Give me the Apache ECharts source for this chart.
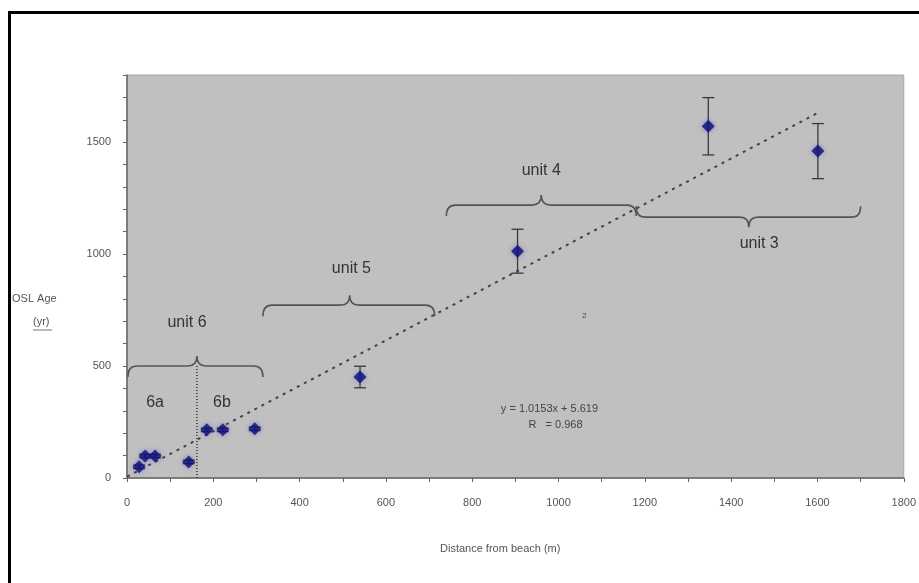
<!DOCTYPE html>
<html>
<head>
<meta charset="utf-8">
<script src="https://cdn.jsdelivr.net/npm/echarts@6/dist/echarts.min.js"></script>
<style>
  html, body { margin: 0; padding: 0; background: #fff; }
  #main { width: 919px; height: 583px; }
</style>
</head>
<body>
<div id="main"></div>
<script>
// 样本数据 (distance m, OSL age yr, error yr)
var distance = [28, 42, 65, 143, 185, 222, 296, 540, 905, 1347, 1601];
var oslAge = [50, 98, 98, 72, 215, 215, 220, 451, 1013, 1571, 1460];
var ageError = [8, 8, 8, 8, 8, 8, 8, 48, 98, 128, 123];

// trendline end points
var trendX = [0, 1600];
var trendY = [6, 1630];

// braces: start x, end x, tip x, level y, 1 = tip up / -1 = tip down
var braceStart = [2, 315, 740, 1180];
var braceEnd = [315, 713, 1180, 1700];
var braceTip = [162, 516, 960, 1441];
var braceLevel = [500, 772, 1219, 1165];
var braceDir = [1, 1, 1, -1];

// 6a / 6b divider
var dividerX = 162;
var dividerY = [0, 500];

var noteText = ['unit 6', '6a', '6b', 'unit 5', 'unit 4', 'unit 3', 'y = 1.0153x + 5.619', 'R   = 0.968', '2'];
var noteX = [139, 65, 220, 520, 960, 1465, 979, 993, 1060];
var noteY = [692, 335, 335, 937, 1375, 1049, 308, 237, 723];
var noteSize = [16, 16, 16, 16, 16, 16, 11, 11, 8];

(function () {
  var myChart = echarts.init(document.getElementById('main'));

  var points = distance.map(function (d, i) { return [d, oslAge[i]]; });
  var errs = distance.map(function (d, i) { return [d, oslAge[i], ageError[i]]; });
  var braces = braceStart.map(function (s, i) {
    return [s, braceEnd[i], braceTip[i], braceLevel[i], braceDir[i]];
  });
  var notes = noteText.map(function (t, i) { return [noteX[i], noteY[i], i]; });

  var option = {
    animation: false,
    backgroundColor: '#fff',
    grid: {
      left: 127, right: 15, top: 75, bottom: 105,
      show: true,
      backgroundColor: '#c0c0c0',
      borderColor: '#a8a8a8',
      borderWidth: 1
    },
    xAxis: {
      type: 'value',
      min: 0, max: 1800, interval: 200,
      axisLine: { lineStyle: { color: '#666', width: 1.5 } },
      axisTick: { length: 4, lineStyle: { color: '#666' } },
      minorTick: { show: true, splitNumber: 2, length: 4, lineStyle: { color: '#666' } },
      splitLine: { show: false },
      axisLabel: { color: '#555', fontSize: 11, margin: 19, fontFamily: 'Liberation Sans',
        formatter: function (v) { return String(v); } }
    },
    yAxis: {
      type: 'value',
      min: 0, max: 1800, interval: 500,
      axisLine: { show: true, lineStyle: { color: '#666', width: 1.5 } },
      axisTick: { show: true, length: 4, lineStyle: { color: '#666' } },
      minorTick: { show: true, splitNumber: 5, length: 4, lineStyle: { color: '#666' } },
      splitLine: { show: false },
      axisLabel: { color: '#555', fontSize: 11, margin: 16, fontFamily: 'Liberation Sans',
        formatter: function (v) { return v % 500 === 0 ? String(v) : ''; } }
    },
    graphic: [
      { type: 'line', shape: { x1: 8, y1: 12.5, x2: 919, y2: 12.5 }, style: { stroke: '#000', lineWidth: 3 } },
      { type: 'line', shape: { x1: 9.5, y1: 11, x2: 9.5, y2: 583 }, style: { stroke: '#000', lineWidth: 3 } },
      { type: 'text', left: 12, top: 293, style: { text: 'OSL Age', fill: '#555', font: '11px "Liberation Sans"' } },
      { type: 'text', left: 33, top: 316, style: { text: '(yr)', fill: '#555', font: '11px "Liberation Sans"' } },
      { type: 'line', shape: { x1: 33, y1: 330, x2: 52, y2: 330 }, style: { stroke: '#777', lineWidth: 1 } },
      { type: 'text', left: 440, top: 543, style: { text: 'Distance from beach (m)', fill: '#555', font: '11px "Liberation Sans"' } }
    ],
    series: [
      {
        name: 'trend',
        type: 'line',
        data: trendX.map(function (x, i) { return [x, trendY[i]]; }),
        symbol: 'none',
        lineStyle: { color: '#444', width: 2, type: [3, 5] },
        z: 2
      },
      {
        name: 'divider',
        type: 'line',
        data: dividerY.map(function (y) { return [dividerX, y]; }),
        symbol: 'none',
        lineStyle: { color: '#333', width: 1.5, type: [1, 2] },
        z: 2
      },
      {
        name: 'errors',
        type: 'custom',
        data: errs,
        renderItem: function (params, api) {
          var x = api.value(0), y = api.value(1), e = api.value(2);
          var top = api.coord([x, y + e]);
          var bot = api.coord([x, y - e]);
          var hw = 6;
          var st = { stroke: '#3a3a3a', lineWidth: 1.3 };
          return {
            type: 'group',
            children: [
              { type: 'line', shape: { x1: top[0], y1: top[1], x2: bot[0], y2: bot[1] }, style: st },
              { type: 'line', shape: { x1: top[0] - hw, y1: top[1], x2: top[0] + hw, y2: top[1] }, style: st },
              { type: 'line', shape: { x1: bot[0] - hw, y1: bot[1], x2: bot[0] + hw, y2: bot[1] }, style: st }
            ]
          };
        },
        z: 3
      },
      {
        name: 'OSL age',
        type: 'scatter',
        data: points,
        symbol: 'diamond',
        symbolSize: 13,
        itemStyle: { color: '#0c0c78', shadowBlur: 5, shadowColor: 'rgba(60,60,200,0.6)' },
        z: 4
      },
      {
        name: 'braces',
        type: 'custom',
        data: braces,
        renderItem: function (params, api) {
          var p1 = api.coord([api.value(0), api.value(3)]);
          var p2 = api.coord([api.value(1), api.value(3)]);
          var pt = api.coord([api.value(2), api.value(3)]);
          var s = api.value(4);
          var y0 = p1[1], endY = y0 + s * 11, tipY = y0 - s * 10;
          var r = 9;
          var d = 'M' + p1[0] + ' ' + endY +
            ' Q' + p1[0] + ' ' + y0 + ' ' + (p1[0] + r) + ' ' + y0 +
            ' L' + (pt[0] - r) + ' ' + y0 +
            ' Q' + pt[0] + ' ' + y0 + ' ' + pt[0] + ' ' + tipY +
            ' Q' + pt[0] + ' ' + y0 + ' ' + (pt[0] + r) + ' ' + y0 +
            ' L' + (p2[0] - r) + ' ' + y0 +
            ' Q' + p2[0] + ' ' + y0 + ' ' + p2[0] + ' ' + endY;
          return {
            type: 'path',
            shape: { pathData: d },
            style: { stroke: '#555', fill: null, lineWidth: 1.6 }
          };
        },
        z: 3
      },
      {
        name: 'notes',
        type: 'custom',
        data: notes,
        renderItem: function (params, api) {
          var p = api.coord([api.value(0), api.value(1)]);
          var i = api.value(2);
          return {
            type: 'text',
            x: p[0], y: p[1],
            style: {
              text: noteText[i],
              fill: noteSize[i] > 12 ? '#333' : '#444',
              font: noteSize[i] + 'px "Liberation Sans"',
              align: 'center',
              verticalAlign: 'middle'
            }
          };
        },
        z: 5
      }
    ]
  };

  myChart.setOption(option);
  window.addEventListener('resize', function () {
    myChart.resize();
  });
})();
</script>
</body>
</html>
